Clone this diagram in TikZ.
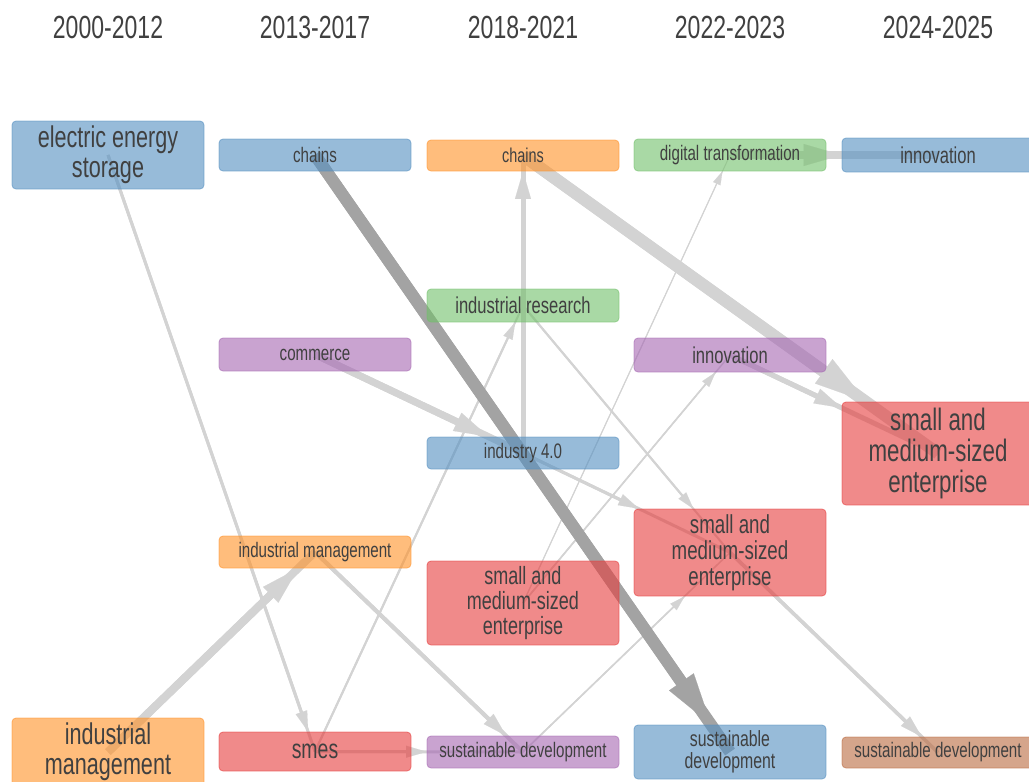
\documentclass[tikz,border=0pt]{standalone}
\usepackage{fontspec}
\setmainfont[FakeStretch=0.72]{Liberation Sans}
\usetikzlibrary{arrows.meta}
\pgfdeclarelayer{background}
\pgfsetlayers{background,main}
\definecolor{txt}{HTML}{404040}
\definecolor{lgray}{HTML}{D3D3D3}
\definecolor{dgray}{HTML}{A3A3A3}
\definecolor{cblue}{RGB}{83,143,193}
\definecolor{corange}{RGB}{255,145,38}
\definecolor{cgreen}{RGB}{113,192,105}
\definecolor{cred}{RGB}{230,60,60}
\definecolor{cpurple}{RGB}{165,102,178}
\definecolor{cbrown}{RGB}{185,105,63}
\tikzset{
  box/.style={rectangle, rounded corners=4pt, minimum width=192pt, inner sep=0pt,
    align=center, text=txt, fill=#1, fill opacity=0.6, text opacity=1,
    draw=#1, draw opacity=0.6, line width=0.8pt},
  fs/.style={font=\fontsize{#1}{#1}\selectfont},
  hdr/.style={text=txt, font=\fontsize{32}{32}\selectfont},
}
\newcommand\lnk[4][lgray]{%
  \pgfmathsetmacro\lnkL{10+3.5*#4}%
  \pgfmathsetmacro\lnkW{6+2*#4}%
  \draw[#1, line width=#4pt] (#2.center) -- (#3.center);
  \draw[#1, line width=#4pt, -{Triangle[length=\lnkL pt, width=\lnkW pt, line width=0.1pt]}] (#2.center) -- (#3);
}
\begin{document}
\begin{tikzpicture}[x=1pt, y=-1pt]
\useasboundingbox (0,0) rectangle (1029,782);
% headers
\node[hdr] (h1) at (108,27) {2000-2012};
\node[hdr] (h2) at (315,27) {2013-2017};
\node[hdr] (h3) at (523,27) {2018-2021};
\node[hdr] (h4) at (730,27) {2022-2023};
\node[hdr] (h5) at (938,27) {2024-2025};
% column 1
\node[box=cblue, fs=30, minimum height=68pt] (ees) at (108,155) {electric energy\\storage};
\node[box=corange, fs=30, minimum height=68pt] (im1) at (108,752) {industrial\\management};
% column 2
\node[box=cblue, fs=21, minimum height=32pt] (ch2) at (315,155) {chains};
\node[box=cpurple, fs=21, minimum height=33pt] (com) at (315,354.5) {commerce};
\node[box=corange, fs=21, minimum height=32pt] (im2) at (315,552) {industrial management};
\node[box=cred, fs=27, minimum height=39pt] (smes) at (315,751.5) {smes};
% column 3
\node[box=corange, fs=20, minimum height=31pt] (ch3) at (523,155.5) {chains};
\node[box=cgreen, fs=23, minimum height=33pt] (ir) at (523,305.5) {industrial research};
\node[box=cblue, fs=21, minimum height=32pt] (i40) at (523,453) {industry 4.0};
\node[box=cred, fs=25, minimum height=84pt] (sme3) at (523,603) {small and\\medium-sized\\enterprise};
\node[box=cpurple, fs=21, minimum height=32pt] (sd3) at (523,752) {sustainable development};
% column 4
\node[box=cgreen, fs=21, minimum height=32pt] (dt) at (730,155) {digital transformation};
\node[box=cpurple, fs=23, minimum height=34pt] (inn4) at (730,355) {innovation};
\node[box=cred, fs=26, minimum height=87pt] (sme4) at (730,552.5) {small and\\medium-sized\\enterprise};
\node[box=cblue, fs=22, minimum height=54pt] (sd4) at (730,752) {sustainable\\development};
% column 5
\node[box=cblue, fs=23, minimum height=34pt] (inn5) at (938,155) {innovation};
\node[box=cred, fs=31, minimum height=103pt] (sme5) at (938,453.5) {small and\\medium-sized\\enterprise};
\node[box=cbrown, fs=21, minimum height=31pt] (sd5) at (938,752.5) {sustainable development};
% connectors
\begin{pgfonlayer}{background}
\fill[white] (0,0) rectangle (1029,782);
\lnk{ees}{smes}{3}
\lnk{im1}{im2}{8}
\lnk{com}{i40}{7}
\lnk{im2}{sd3}{4}
\lnk{smes}{sd3}{3}
\lnk{smes}{ir}{2}
\lnk{i40}{ch3}{5}
\lnk{ir}{sme4}{2}
\lnk{i40}{sme4}{3}
\lnk{sme4}{sd5}{3.5}
\lnk{ch3}{sme5}{12}
\lnk{inn4}{sme5}{5}
\lnk{dt}{inn5}{8}
\lnk{sme3}{dt}{1}
\lnk{sme3}{inn4}{1.5}
\lnk{sd3}{sme4}{1.5}
\lnk[dgray]{ch2}{sd4}{12}
\end{pgfonlayer}
\end{tikzpicture}
\end{document}
